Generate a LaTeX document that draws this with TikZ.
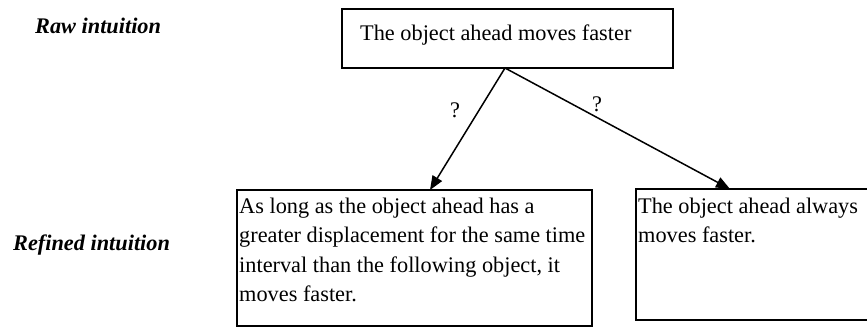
\documentclass[tikz,border=0pt]{standalone}
\usepackage{fontspec}
\setmainfont{Liberation Serif}
\usetikzlibrary{arrows.meta}
\begin{document}
\begin{tikzpicture}[x=1pt,y=-1pt,
  txt/.style={inner sep=0pt, anchor=base west, font=\fontsize{22.3}{29.5}\selectfont, align=left},
  lbl/.style={inner sep=0pt, anchor=base west, font=\fontsize{22.3}{29.5}\selectfont\bfseries\itshape},
  qmark/.style={inner sep=0pt, font=\fontsize{22.3}{29.5}\selectfont},
  frame/.style={line width=1.5pt},
  conn/.style={line width=1.5pt, -{Triangle[length=14pt,width=11pt]}}]
\useasboundingbox (0,0) rectangle (867,327);
% labels
\node[lbl] (raw) at (35,33) {Raw intuition};
\node[lbl] (refined) at (13,250) {Refined intuition};
% top box
\draw[frame] (342,9) rectangle (673,68);
\node[txt] (toptxt) at (360,40) {The object ahead moves faster};
% left box
\draw[frame] (237,190) rectangle (592,326);
\node[txt] (lefttxt) at (239,301.5) {As long as the object ahead has a\\greater displacement for the same time\\interval than the following object, it\\moves faster.};
% right box
\draw[frame] (636,189) rectangle (869,320);
\node[txt] (righttxt) at (638,242.5) {The object ahead always\\moves faster.};
% connectors
\coordinate (v) at (505,68);
\coordinate (lt) at (430,190);
\coordinate (rt) at (730,189);
\draw[conn] (v) -- (lt);
\draw[conn] (v) -- (rt);
\node[qmark] (q1) at (455,110) {?};
\node[qmark] (q2) at (597,104) {?};
\end{tikzpicture}
\end{document}
